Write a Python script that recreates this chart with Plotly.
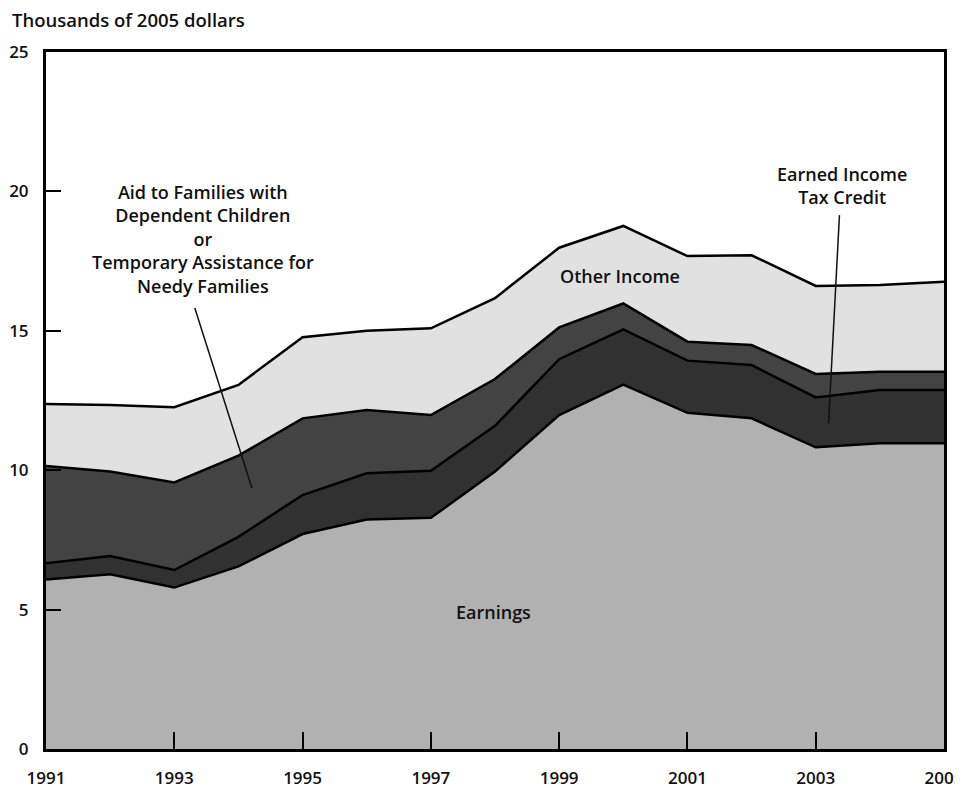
import plotly.graph_objects as go

years = list(range(1991, 2006))
earnings = [6.08, 6.27, 5.79, 6.55, 7.71, 8.23, 8.29, 9.95, 11.98, 13.07, 12.06, 11.86, 10.82, 10.97, 10.97]
eitc = [0.58, 0.65, 0.63, 1.06, 1.40, 1.66, 1.69, 1.64, 2.00, 1.98, 1.87, 1.91, 1.79, 1.91, 1.91]
afdc_tanf = [3.49, 3.03, 3.14, 2.91, 2.75, 2.27, 2.00, 1.68, 1.14, 0.93, 0.68, 0.72, 0.84, 0.65, 0.65]
other_income = [2.22, 2.39, 2.70, 2.54, 2.91, 2.84, 3.11, 2.90, 2.86, 2.78, 3.07, 3.22, 3.16, 3.11, 3.23]

x_tick_vals = [1991, 1993, 1995, 1997, 1999, 2001, 2003, 2005]
x_tick_text = ["1991", "1993", "1995", "1997", "1999", "2001", "2003", "2005"]
y_tick_vals = [0, 5, 10, 15, 20, 25]
y_tick_text = ["0", "5", "10", "15", "20", "25"]

FONT = "Open Sans"
series = [
    ("Earnings", earnings, "#b1b1b1"),
    ("Earned Income Tax Credit", eitc, "#313131"),
    ("AFDC/TANF", afdc_tanf, "#434343"),
    ("Other Income", other_income, "#e1e1e1"),
]

fig = go.Figure()
for name, vals, col in series:
    fig.add_trace(go.Scatter(
        x=years, y=vals, name=name, mode="lines", stackgroup="one",
        line=dict(color="black", width=2.5), fillcolor=col,
        hoverinfo="x+y+name",
    ))

# page body has an 8px default margin: size/margins compensate for it
fig.update_layout(
    width=955, height=780,
    margin=dict(l=38, r=19, t=44, b=39),
    plot_bgcolor="white", paper_bgcolor="white",
    showlegend=False,
    font=dict(family=FONT, size=16, color="#111111"),
    xaxis=dict(
        range=[1991, 2005], tickmode="array", tickvals=x_tick_vals, ticktext=x_tick_text,
        ticks="inside", ticklen=17, tickwidth=1.5, tickcolor="black",
        showline=True, linewidth=3, linecolor="black", mirror=True,
        showgrid=False, zeroline=False, automargin=False,
        tickfont=dict(family=FONT, size=17, weight=600),
        ticklabelstandoff=12, ticklabeloverflow="allow",
    ),
    yaxis=dict(
        range=[0, 25], tickmode="array", tickvals=y_tick_vals, ticktext=y_tick_text,
        ticks="inside", ticklen=15, tickwidth=1.5, tickcolor="black",
        showline=True, linewidth=3, linecolor="black", mirror=True,
        showgrid=False, zeroline=False, automargin=False,
        tickfont=dict(family=FONT, size=17, weight=600),
        ticklabelstandoff=11, ticklabeloverflow="allow",
    ),
)

ann_font = dict(family=FONT, size=18, color="#111111", weight=600)
fig.add_annotation(
    text="Thousands of 2005 dollars", xref="paper", yref="paper",
    x=-0.0401, y=1.0473, xanchor="left", yanchor="middle", showarrow=False,
    font=dict(family=FONT, size=18.5, color="#111111", weight=600),
)
fig.add_annotation(
    text="Aid to Families with<br>Dependent Children<br>or<br>Temporary Assistance for<br>Needy Families",
    xref="x", yref="y", x=1993.45, y=18.31, xanchor="center", yanchor="middle",
    showarrow=False, font=ann_font, align="center",
)
fig.add_annotation(
    text="Earned Income<br>Tax Credit", xref="x", yref="y", x=2003.41, y=20.21,
    xanchor="center", yanchor="middle", showarrow=False, font=ann_font, align="center",
)
fig.add_annotation(
    text="Other Income", xref="x", yref="y", x=1999.95, y=16.97,
    xanchor="center", yanchor="middle", showarrow=False, font=ann_font,
)
fig.add_annotation(
    text="Earnings", xref="x", yref="y", x=1997.97, y=4.91,
    xanchor="center", yanchor="middle", showarrow=False, font=ann_font,
)

# leader lines for the labels
fig.add_shape(type="line", xref="x", yref="y", x0=1993.32, y0=15.82, x1=1994.21, y1=9.36,
              line=dict(color="#111111", width=1.5))
fig.add_shape(type="line", xref="x", yref="y", x0=2003.37, y0=19.15, x1=2003.20, y1=11.68,
              line=dict(color="#111111", width=1.5))

fig.write_html("out.html")
